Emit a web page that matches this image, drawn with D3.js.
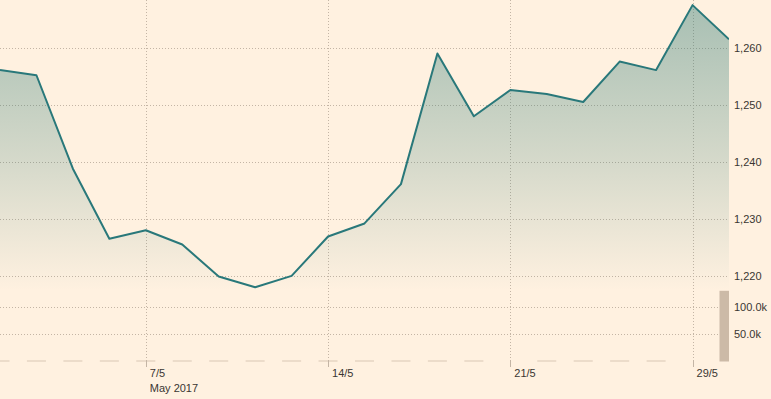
<!DOCTYPE html>
<meta charset="utf-8">
<style>
body { margin: 0; background-color: #fff1e0; }
svg { display: block; background-color: #fff1e0; }
.grid line { stroke: #c4b5a5; stroke-width: 1px; stroke-dasharray: 1,2; }
.axis-label { font-family: "Liberation Sans", Arial, sans-serif; font-size: 11px; fill: #3a3632; }
.line { fill: none; stroke: #29787a; stroke-width: 2px; stroke-linejoin: round; }
.vol { fill: #ccbaa7; }
.tick-mark { stroke: #c4b5a5; stroke-width: 1px; }
</style>
<body>
<script src="https://cdn.jsdelivr.net/npm/d3@7"></script>
<script>
var dates = ["2017-05-01", "2017-05-02", "2017-05-03", "2017-05-04", "2017-05-07",
             "2017-05-08", "2017-05-09", "2017-05-10", "2017-05-11", "2017-05-14",
             "2017-05-15", "2017-05-16", "2017-05-17", "2017-05-18", "2017-05-21",
             "2017-05-22", "2017-05-23", "2017-05-24", "2017-05-25", "2017-05-29",
             "2017-05-30"];
var prices = [1256.2, 1255.3, 1238.9, 1226.6, 1228.1, 1225.6, 1220.0, 1218.1, 1220.1, 1227.0,
              1229.3, 1236.2, 1259.1, 1248.1, 1252.7, 1252.0, 1250.6, 1257.7, 1256.2, 1267.6,
              1261.6];
var volumes = [0, 0, 0, 0, 0, 0, 0, 0, 0, 0,
               0, 0, 0, 0, null, 0, 0, 0, 0, null,
               130000];
var tickDates = ["2017-05-07", "2017-05-14", "2017-05-21", "2017-05-29"];
var priceTicks = [1220, 1230, 1240, 1250, 1260];
var volumeTicks = [50000, 100000];
var monthLabel = "May 2017";

var width = 771, height = 399;
var plotW = 729;          // right edge of the plot, labels sit past it
var priceBottom = 290.7, volTop = 290.8, volBottom = 361.5;

var parse = d3.timeParse("%Y-%m-%d");
var fmtDay = d3.timeFormat("%-d/%-m");

var data = dates.map(function(d, i) {
  return {date: d, price: prices[i], volume: volumes[i]};
});

var x = d3.scalePoint()
    .domain(dates)
    .range([0, plotW]);

var y = d3.scaleLinear()
    .domain([1217.5, 1268.5])
    .range([priceBottom, 0]);

var yv = d3.scaleLinear()
    .domain([0, 130000])
    .range([volBottom, volTop]);

var svg = d3.select("body").append("svg")
    .attr("width", width)
    .attr("height", height);

var defs = svg.append("defs");
defs.append("clipPath").attr("id", "plot-clip")
  .append("rect")
    .attr("x", 0).attr("y", 0)
    .attr("width", plotW).attr("height", volBottom + 1);

var grad = defs.append("linearGradient")
    .attr("id", "area-grad")
    .attr("gradientUnits", "userSpaceOnUse")
    .attr("x1", 0).attr("y1", 0)
    .attr("x2", 0).attr("y2", priceBottom);
grad.append("stop").attr("offset", "0%").attr("stop-color", "#2b7873").attr("stop-opacity", 0.42);
grad.append("stop").attr("offset", "55%").attr("stop-color", "#2b7873").attr("stop-opacity", 0.2);
grad.append("stop").attr("offset", "100%").attr("stop-color", "#2b7873").attr("stop-opacity", 0);

// grid
var grid = svg.append("g").attr("class", "grid");

grid.selectAll(".hp")
  .data(priceTicks)
  .enter().append("line")
    .attr("class", "hp")
    .attr("x1", 0).attr("x2", plotW)
    .attr("y1", function(d) { return Math.round(y(d)) + 0.5; })
    .attr("y2", function(d) { return Math.round(y(d)) + 0.5; });

grid.selectAll(".hv")
  .data(volumeTicks)
  .enter().append("line")
    .attr("class", "hv")
    .attr("x1", 0).attr("x2", plotW)
    .attr("y1", function(d) { return Math.round(yv(d)) + 0.5; })
    .attr("y2", function(d) { return Math.round(yv(d)) + 0.5; });

grid.selectAll(".vx")
  .data(tickDates)
  .enter().append("line")
    .attr("class", "vx")
    .attr("x1", function(d) { return Math.round(x(d)) + 0.5; })
    .attr("x2", function(d) { return Math.round(x(d)) + 0.5; })
    .attr("y1", 0).attr("y2", volBottom);

var plot = svg.append("g").attr("clip-path", "url(#plot-clip)");

// volume bars, zero days still show a thin 1px bar
plot.selectAll(".vol")
  .data(data.filter(function(d) { return d.volume != null; }))
  .enter().append("rect")
    .attr("class", "vol")
    .attr("x", function(d) { return x(d.date) - 9.5; })
    .attr("width", 19)
    .attr("y", function(d) { return volBottom - Math.max(1, volBottom - yv(d.volume)); })
    .attr("height", function(d) { return Math.max(1, volBottom - yv(d.volume)); })
    .style("opacity", function(d) { return d.volume > 0 ? 1 : 0.75; });

var area = d3.area()
    .x(function(d) { return x(d.date); })
    .y0(priceBottom)
    .y1(function(d) { return y(d.price); });

var line = d3.line()
    .x(function(d) { return x(d.date); })
    .y(function(d) { return y(d.price); });

plot.append("path")
    .datum(data)
    .attr("d", area)
    .style("fill", "url(#area-grad)");

plot.append("path")
    .datum(data)
    .attr("class", "line")
    .attr("d", line);

// x ticks and labels
svg.selectAll(".tick-mark")
  .data(tickDates)
  .enter().append("line")
    .attr("class", "tick-mark")
    .attr("x1", function(d) { return Math.round(x(d)) + 0.5; })
    .attr("x2", function(d) { return Math.round(x(d)) + 0.5; })
    .attr("y1", volBottom - 1).attr("y2", volBottom + 5.5);

svg.selectAll(".xlab")
  .data(tickDates)
  .enter().append("text")
    .attr("class", "axis-label xlab")
    .attr("x", function(d) { return x(d) + 4; })
    .attr("y", 377)
    .text(function(d) { return fmtDay(parse(d)); });

svg.append("text")
    .attr("class", "axis-label")
    .attr("x", x(tickDates[0]) + 4)
    .attr("y", 391.5)
    .text(monthLabel);

// right side labels
svg.selectAll(".plab")
  .data(priceTicks)
  .enter().append("text")
    .attr("class", "axis-label plab")
    .attr("x", 734)
    .attr("y", function(d) { return y(d); })
    .attr("dy", "0.35em")
    .text(d3.format(","));

svg.selectAll(".vlab")
  .data(volumeTicks)
  .enter().append("text")
    .attr("class", "axis-label vlab")
    .attr("x", 734)
    .attr("y", function(d) { return yv(d); })
    .attr("dy", "0.35em")
    .text(function(d) { return d3.format(".1f")(d / 1000) + "k"; });
</script>
</body>
